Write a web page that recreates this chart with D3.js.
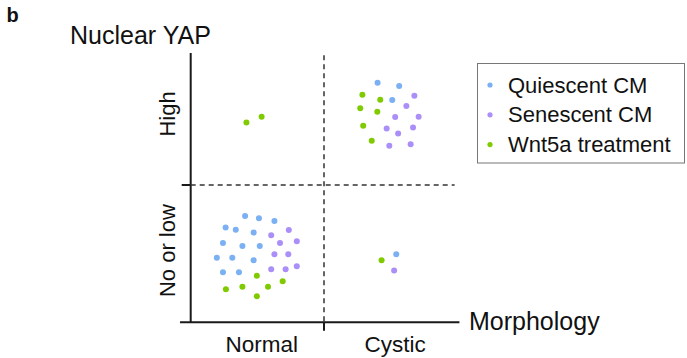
<!DOCTYPE html>
<html>
<head>
<meta charset="utf-8">
<script src="https://cdn.jsdelivr.net/npm/d3@7"></script>
<style>
  body { margin: 0; background: #fff; }
  text { font-family: "Liberation Sans", Arial, Helvetica, sans-serif; fill: #111; }
</style>
</head>
<body>
<div id="chart"></div>
<script>
// categories on each axis (0-50 = first, 50-100 = second)
var morphology = ["Normal", "Cystic"];
var yapLevels = ["No or low", "High"];
var seriesNames = ["Quiescent CM", "Senescent CM", "Wnt5a treatment"];

// points as [morphology position, nuclear YAP position], both 0..100
var quiescent = [
    [70.1, 87.4], [78.2, 86.2], [75.6, 81.1],
    [77.1, 24.7],
    [20.4, 38.7], [25.6, 37.8], [31.4, 36.8], [13.1, 34.5], [16.9, 33.6],
    [23.6, 32.6], [12.1, 28.8], [19.4, 27.7], [25.9, 27.7], [9.8, 23.4],
    [15.6, 23.4], [23.6, 22.5], [12.1, 18.1], [18.1, 18.1]
];
var senescent = [
    [83.9, 82.6], [80.9, 78.9], [76.7, 74.9], [85.5, 75.0], [73.5, 70.7],
    [83.4, 71.0], [77.8, 68.8], [74.5, 64.4], [82.5, 64.9],
    [76.3, 18.7],
    [30.2, 31.6], [36.8, 33.5], [33.5, 28.8], [39.8, 29.4], [31.4, 24.7],
    [36.6, 24.7], [30.2, 19.2], [35.6, 19.2], [39.8, 20.3]
];
var wnt5a = [
    [64.4, 83.0], [71.1, 81.2], [63.6, 78.1], [70.0, 76.8], [64.7, 71.7],
    [67.9, 66.2],
    [20.9, 72.9], [26.6, 75.0],
    [71.6, 22.5],
    [24.8, 16.8], [34.5, 14.8], [13.2, 11.9], [19.4, 12.8], [29.0, 12.8],
    [24.8, 9.3]
];

var colors = ["#7bb0f2", "#ab8ff8", "#80cb00"];
var allSeries = [quiescent, senescent, wnt5a];

var W = 687, H = 358;
var svg = d3.select("#chart").append("svg")
    .attr("width", W).attr("height", H);

var x = d3.scaleLinear().domain([0, 100]).range([190.7, 457.3]);
var y = d3.scaleLinear().domain([0, 100]).range([321.7, 48.3]);

// axes
svg.append("line")
    .attr("x1", x(-4)).attr("x2", x(100.8))
    .attr("y1", y(-0.2)).attr("y2", y(-0.2))
    .attr("stroke", "#1a1a1a").attr("stroke-width", 2);
svg.append("line")
    .attr("x1", x(0)).attr("x2", x(0))
    .attr("y1", y(-0.2)).attr("y2", y(98.3))
    .attr("stroke", "#1a1a1a").attr("stroke-width", 2);

// ticks at the split
svg.append("line")
    .attr("x1", x(50)).attr("x2", x(50))
    .attr("y1", y(0)).attr("y2", y(0) + 9)
    .attr("stroke", "#1a1a1a").attr("stroke-width", 2);
svg.append("line")
    .attr("x1", x(0) - 9).attr("x2", x(0))
    .attr("y1", y(50)).attr("y2", y(50))
    .attr("stroke", "#1a1a1a").attr("stroke-width", 2);

// quadrant dividers
svg.append("line")
    .attr("x1", x(50)).attr("x2", x(50))
    .attr("y1", y(97.5)).attr("y2", y(0))
    .attr("stroke", "#333").attr("stroke-width", 1.5)
    .attr("stroke-dasharray", "5,4");
svg.append("line")
    .attr("x1", x(0)).attr("x2", x(99))
    .attr("y1", y(50)).attr("y2", y(50))
    .attr("stroke", "#333").attr("stroke-width", 1.5)
    .attr("stroke-dasharray", "5,4");

// category labels
svg.selectAll(".xcat")
    .data(morphology)
    .enter().append("text")
    .attr("class", "xcat")
    .attr("x", (d, i) => x(25 + i * 50) + 4.5)
    .attr("y", 351.5)
    .attr("text-anchor", "middle")
    .style("font-size", "22.5px")
    .text(d => d);

var yPos = [26, 76];
svg.selectAll(".ycat")
    .data(yapLevels)
    .enter().append("text")
    .attr("class", "ycat")
    .attr("transform", (d, i) => `translate(175, ${y(yPos[i])}) rotate(-90)`)
    .attr("text-anchor", "middle")
    .style("font-size", "22px")
    .text(d => d);

// axis titles
svg.append("text")
    .attr("x", 469).attr("y", 330)
    .style("font-size", "25px")
    .text("Morphology");
svg.append("text")
    .attr("x", 70).attr("y", 43.5)
    .style("font-size", "25px")
    .text("Nuclear YAP");
svg.append("text")
    .attr("x", 6.5).attr("y", 22)
    .style("font-size", "20px")
    .style("font-weight", "bold")
    .text("b");

// points
allSeries.forEach(function (pts, k) {
    svg.append("g").selectAll("circle")
        .data(pts)
        .enter().append("circle")
        .attr("cx", d => x(d[0]))
        .attr("cy", d => y(d[1]))
        .attr("r", 3)
        .attr("fill", colors[k]);
});

// legend
var legend = svg.append("g");
legend.append("rect")
    .attr("x", 477.5).attr("y", 63.5)
    .attr("width", 207).attr("height", 99.5)
    .attr("fill", "none").attr("stroke", "#777").attr("stroke-width", 1);

var rows = legend.selectAll(".row")
    .data(seriesNames)
    .enter().append("g")
    .attr("transform", (d, i) => `translate(0, ${85 + i * 29.8})`);
rows.append("circle")
    .attr("cx", 490).attr("cy", 0).attr("r", 2.6)
    .attr("fill", (d, i) => colors[i]);
rows.append("text")
    .attr("x", 508).attr("y", 7.6)
    .style("font-size", "22px")
    .text(d => d);
</script>
</body>
</html>
